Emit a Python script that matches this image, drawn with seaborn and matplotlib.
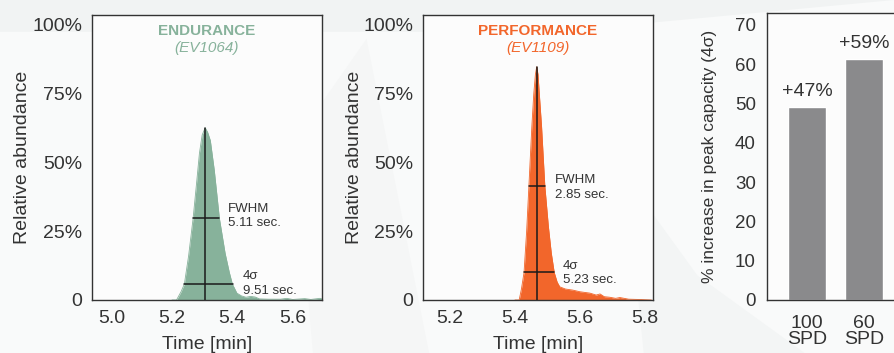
import numpy as np
import pandas as pd
import matplotlib
matplotlib.use("Agg")
import matplotlib.pyplot as plt
import seaborn as sns

# --- data ---
endurance_time = [5.20, 5.215, 5.23, 5.241, 5.255, 5.27, 5.281, 5.291, 5.300, 5.310, 5.318,
                  5.327, 5.340, 5.357, 5.376, 5.390, 5.400, 5.415, 5.43, 5.445, 5.46, 5.475,
                  5.49, 5.52, 5.56, 5.58, 5.60, 5.64, 5.66, 5.69, 5.70]
endurance_abund = [0.0, 0.0, 0.03, 0.058, 0.16, 0.297, 0.42, 0.534, 0.60, 0.626, 0.61,
                   0.58, 0.473, 0.297, 0.17, 0.10, 0.058, 0.025, 0.015, 0.010, 0.013, 0.011,
                   0.004, 0.003, 0.003, 0.006, 0.002, 0.005, 0.002, 0.006, 0.003]

performance_time = [5.40, 5.413, 5.42, 5.428, 5.436, 5.443, 5.452, 5.458, 5.463, 5.467, 5.471,
                    5.475, 5.482, 5.492, 5.503, 5.512, 5.521, 5.53, 5.538, 5.555, 5.578, 5.60,
                    5.631, 5.65, 5.662, 5.675, 5.692, 5.71, 5.723, 5.75, 5.78, 5.82]
performance_abund = [0.0, 0.0, 0.04, 0.10, 0.25, 0.415, 0.63, 0.75, 0.82, 0.848, 0.82,
                     0.75, 0.63, 0.415, 0.267, 0.17, 0.10, 0.065, 0.048, 0.04, 0.036, 0.03,
                     0.025, 0.018, 0.022, 0.012, 0.01, 0.006, 0.009, 0.003, 0.002, 0.0]

# apex, FWHM (left, right, height), 4 sigma (left, right, height)
endurance_marks = {"apex": 5.310, "fwhm": (5.270, 5.357, 0.297), "sigma4": (5.241, 5.401, 0.058)}
performance_marks = {"apex": 5.467, "fwhm": (5.443, 5.492, 0.415), "sigma4": (5.428, 5.521, 0.100)}

fwhm_labels = ["FWHM\n5.11 sec.", "FWHM\n2.85 sec."]
sigma_labels = ["4\u03c3\n9.51 sec.", "4\u03c3\n5.23 sec."]

spd_labels = ["100\nSPD", "60\nSPD"]
capacity_increase = [49.0, 61.3]
capacity_text = ["+47%", "+59%"]

GREEN = "#87b29b"
ORANGE = "#f2662b"
GRAY = "#8a8a8c"
INK = "#333333"

sns.set_style("white")
plt.rcParams["font.family"] = ["Liberation Sans", "DejaVu Sans"]

fig = plt.figure(figsize=(8.94, 3.53), dpi=100)
fig.patch.set_facecolor("#f9fafa")
# faint gray swooshes in the background
fig.patches.append(plt.Polygon([[0.0, 0.91], [0.0, 1.0], [1.0, 1.0], [0.62, 0.91]],
                               closed=True, transform=fig.transFigure,
                               facecolor="#f1f3f3", edgecolor="none", zorder=-10))
fig.patches.append(plt.Polygon([[0.35, 0.0], [0.33, 0.6], [0.41, 0.89], [0.48, 0.0]],
                               closed=True, transform=fig.transFigure,
                               facecolor="#f5f6f6", edgecolor="none", zorder=-10))
fig.patches.append(plt.Polygon([[0.72, 0.0], [0.70, 0.5], [0.78, 0.22], [0.90, 0.0]],
                               closed=True, transform=fig.transFigure,
                               facecolor="#f3f5f5", edgecolor="none", zorder=-10))

ax1 = fig.add_axes([92 / 894, 53 / 353, 230 / 894, 285 / 353])
ax2 = fig.add_axes([423 / 894, 53 / 353, 230 / 894, 285 / 353])
ax3 = fig.add_axes([767 / 894, 53 / 353, 193 / 894, 287 / 353])

panels = [
    (ax1, endurance_time, endurance_abund, endurance_marks, GREEN, "ENDURANCE", "(EV1064)",
     (4.935, 5.697), [5.0, 5.2, 5.4, 5.6], (5.386, 0.352), (5.435, 0.108), 1),
    (ax2, performance_time, performance_abund, performance_marks, ORANGE, "PERFORMANCE", "(EV1109)",
     (5.117, 5.825), [5.2, 5.4, 5.6, 5.8], (5.523, 0.457), (5.548, 0.147), 0),
]

for i, (ax, t, a, marks, color, title, code, xlim, xticks, fw_pos, sg_pos, ypad) in enumerate(panels):
    df = pd.DataFrame({"time": t, "abund": a})
    ax.set_facecolor("#fcfcfc")
    ax.fill_between(df["time"], df["abund"], color=color, linewidth=0, zorder=2)
    sns.lineplot(data=df, x="time", y="abund", ax=ax, color=color, linewidth=0.6, zorder=2)

    ax.plot([marks["apex"], marks["apex"]], [0, max(a)], color="#1a1a1a", lw=1.1, zorder=3)
    l, r, h = marks["fwhm"]
    ax.plot([l, r], [h, h], color="#1a1a1a", lw=1.1, zorder=3)
    l, r, h = marks["sigma4"]
    ax.plot([l, r], [h, h], color="#1a1a1a", lw=1.1, zorder=3)

    ax.text(fw_pos[0], fw_pos[1], fwhm_labels[i], fontsize=9.5, color=INK, va="top", ha="left",
            linespacing=1.25)
    ax.text(sg_pos[0], sg_pos[1], sigma_labels[i], fontsize=9.5, color=INK, va="top", ha="left",
            linespacing=1.25)

    ax.text(0.5, 0.945, title, transform=ax.transAxes, ha="center", va="center",
            fontsize=11, fontweight="bold", color=color)
    ax.text(0.5, 0.885, code, transform=ax.transAxes, ha="center", va="center",
            fontsize=11, fontstyle="italic", color=color)

    ax.set_xlim(*xlim)
    ax.set_ylim(0, 1.036)
    ax.set_xticks(xticks)
    ax.set_xticklabels([f"{x:.1f}" for x in xticks])
    ax.set_yticks([0, 0.25, 0.5, 0.75, 1.0])
    ax.set_yticklabels(["0", "25%", "50%", "75%", "100%"])
    ax.set_xlabel("Time [min]", fontsize=14, color=INK, labelpad=7)
    ax.set_ylabel("Relative abundance", fontsize=14, color=INK, labelpad=ypad)
    ax.tick_params(length=0, labelsize=14, colors=INK, pad=7)
    for s in ax.spines.values():
        s.set_color(INK)
        s.set_linewidth(1.0)

# bar panel
bar_df = pd.DataFrame({"spd": spd_labels, "increase": capacity_increase})
ax3.set_facecolor("#fcfcfc")
sns.barplot(data=bar_df, x="spd", y="increase", ax=ax3, color=GRAY, width=0.667,
            saturation=1.0)
for k, (val, txt) in enumerate(zip(capacity_increase, capacity_text)):
    ax3.text(k, val + 1.8, txt, ha="center", va="bottom", fontsize=14, color=INK)
ax3.set_xlim(-0.70, 2.68)
ax3.set_ylim(0, 73.05)
ax3.set_yticks(range(0, 71, 10))
ax3.set_xlabel("")
ax3.set_ylabel("% increase in peak capacity (4\u03c3)", fontsize=12.5, color=INK, labelpad=13)
ax3.tick_params(length=0, labelsize=13.5, colors=INK, pad=8)
ax3.tick_params(axis="x", labelsize=14, pad=11)
for lab in ax3.get_xticklabels():
    lab.set_linespacing(0.92)
for s in ax3.spines.values():
    s.set_color(INK)
    s.set_linewidth(1.0)

fig.savefig("out.png", dpi=100, facecolor=fig.get_facecolor())
